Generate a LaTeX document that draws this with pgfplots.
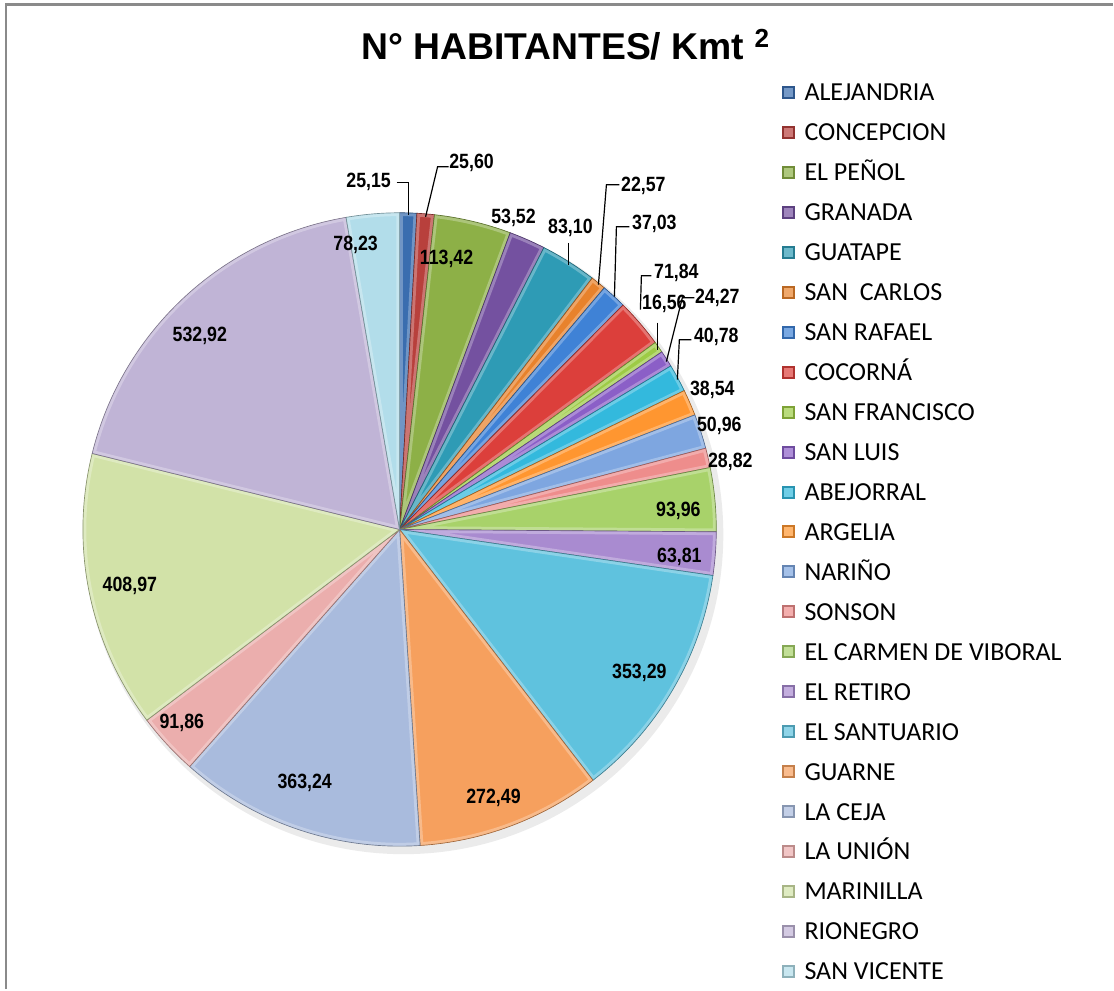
\documentclass[border=0pt]{standalone}
\usepackage{fontspec}
\setmainfont{Liberation Sans}
\newfontfamily\legfont{Carlito}
\newfontfamily\labfont[FakeStretch=0.86]{Liberation Sans}
\usepackage{pgfplots}
\usepackage{pgfplotstable}
\pgfplotsset{compat=1.18}

\definecolor{pc0}{HTML}{3A6DAF}
\definecolor{pc1}{HTML}{B8403C}
\definecolor{pc2}{HTML}{8DB047}
\definecolor{pc3}{HTML}{7451A0}
\definecolor{pc4}{HTML}{2E9BB5}
\definecolor{pc5}{HTML}{E8822C}
\definecolor{pc6}{HTML}{3F82D6}
\definecolor{pc7}{HTML}{DC3F3B}
\definecolor{pc8}{HTML}{9DCB45}
\definecolor{pc9}{HTML}{8B5FC7}
\definecolor{pc10}{HTML}{33B9DD}
\definecolor{pc11}{HTML}{FF9630}
\definecolor{pc12}{HTML}{7EA6E0}
\definecolor{pc13}{HTML}{EE8D8C}
\definecolor{pc14}{HTML}{A8D26A}
\definecolor{pc15}{HTML}{A98BD0}
\definecolor{pc16}{HTML}{5FC2DE}
\definecolor{pc17}{HTML}{F6A05E}
\definecolor{pc18}{HTML}{A9BBDD}
\definecolor{pc19}{HTML}{EBAEAD}
\definecolor{pc20}{HTML}{D2E2A8}
\definecolor{pc21}{HTML}{C0B4D6}
\definecolor{pc22}{HTML}{B2DDEA}
\definecolor{frame}{HTML}{8A8A8A}

% value; label centre (pixel coordinates, y downwards)
\pgfplotstableread[col sep=semicolon]{
name;value;lx;ly
ALEJANDRIA;25.15;369;180
CONCEPCION;25.60;472;161
EL PEÑOL;113.42;447;257
GRANADA;53.52;514;216
GUATAPE;83.10;571;226
SAN\ \ CARLOS;22.57;644;184
SAN RAFAEL;37.03;655;222
COCORNÁ;71.84;677;271
SAN FRANCISCO;16.56;665;302
SAN LUIS;24.27;718;296
ABEJORRAL;40.78;717;335
ARGELIA;38.54;713;388
NARIÑO;50.96;720;424
SONSON;28.82;731;460
EL CARMEN DE VIBORAL;93.96;679;510
EL RETIRO;63.81;680;556
EL SANTUARIO;353.29;640;672
GUARNE;272.49;494;797
LA CEJA;363.24;305;782
LA UNIÓN;91.86;182;722
MARINILLA;408.97;130;585
RIONEGRO;532.92;200;334
SAN VICENTE;78.23;356;243
}\piedata

% cumulative angles (clockwise from 12 o'clock)
\pgfplotstablegetrowsof{\piedata}
\pgfmathtruncatemacro\pieN{\pgfplotsretval-1}
\gdef\pietot{0}
\foreach \i in {0,...,\pieN}{%
  \pgfplotstablegetelem{\i}{value}\of\piedata
  \pgfmathsetmacro\t{\pietot+\pgfplotsretval}%
  \xdef\pietot{\t}}
\gdef\piecum{0}
\foreach \i in {0,...,\pieN}{%
  \pgfplotstablegetelem{\i}{value}\of\piedata
  \pgfmathsetmacro\a{90-(\piecum/\pietot)*360}%
  \pgfmathsetmacro\c{\piecum+\pgfplotsretval}%
  \pgfmathsetmacro\b{90-(\c/\pietot)*360}%
  \expandafter\xdef\csname pieA\i\endcsname{\a}%
  \expandafter\xdef\csname pieB\i\endcsname{\b}%
  \xdef\piecum{\c}}

\begin{document}
\begin{tikzpicture}
\begin{axis}[x=0.75pt, y=0.75pt, xmin=0, xmax=1114, ymin=0, ymax=990,
  hide axis, clip=false, scale only axis]
\path (axis cs:0,0) rectangle (axis cs:1114,990);
% chart frame
\draw[frame, line width=1.6pt] (axis cs:6,0) -- (axis cs:6,985.5) -- (axis cs:1114,985.5);
% title
\node[anchor=base, font=\bfseries\fontsize{28}{32}\selectfont, inner sep=0pt]
  at (axis cs:566,{990-60}) {N° HABITANTES/ Kmt \textsuperscript{2}};
% soft shadow of the pie
\pgfplotsextra{\fill[black, opacity=0.08] (axis cs:404,455) circle[radius=240pt];}
% slices
\pgfplotsinvokeforeach{0,...,22}{%
 \pgfplotsextra{%
  \fill[pc#1] (axis cs:400,460) -- ++(\csname pieA#1\endcsname:237.75pt)
    arc[start angle=\csname pieA#1\endcsname, end angle=\csname pieB#1\endcsname, radius=237.75pt] -- cycle;
  \begin{scope}
  \clip (axis cs:400,460) -- ++(\csname pieA#1\endcsname:237.75pt)
    arc[start angle=\csname pieA#1\endcsname, end angle=\csname pieB#1\endcsname, radius=237.75pt] -- cycle;
  \draw[white, opacity=0.28, line width=5pt] (axis cs:400,460) -- ++(\csname pieA#1\endcsname:237.75pt)
    arc[start angle=\csname pieA#1\endcsname, end angle=\csname pieB#1\endcsname, radius=237.75pt] -- cycle;
  \end{scope}
  \draw[pc#1!65!black, line width=0.5pt] (axis cs:400,460) -- ++(\csname pieA#1\endcsname:237.75pt)
    arc[start angle=\csname pieA#1\endcsname, end angle=\csname pieB#1\endcsname, radius=237.75pt] -- cycle;
 }}
% leader lines
\draw[black, line width=0.9pt] (axis cs:397,{990-183}) -- (axis cs:409,{990-183}) -- (axis cs:409,{990-215});
\draw[black, line width=0.9pt] (axis cs:449,{990-167}) -- (axis cs:438,{990-167}) -- (axis cs:426,{990-217});
\draw[black, line width=0.9pt] (axis cs:569,{990-243}) -- (axis cs:569,{990-265});
\draw[black, line width=0.9pt] (axis cs:620,{990-185}) -- (axis cs:607,{990-185}) -- (axis cs:599,{990-285});
\draw[black, line width=0.9pt] (axis cs:630,{990-227}) -- (axis cs:617,{990-227}) -- (axis cs:615,{990-297});
\draw[black, line width=0.9pt] (axis cs:652,{990-276}) -- (axis cs:642,{990-276}) -- (axis cs:641,{990-310});
\draw[black, line width=0.9pt] (axis cs:658,{990-323}) -- (axis cs:658,{990-350});
\draw[black, line width=0.9pt] (axis cs:695,{990-298}) -- (axis cs:683,{990-298}) -- (axis cs:667,{990-362});
\draw[black, line width=0.9pt] (axis cs:692,{990-340}) -- (axis cs:680,{990-340}) -- (axis cs:678,{990-380});
% labels and legend
\pgfplotsinvokeforeach{0,...,22}{%
 \pgfplotsextra{%
  \pgfplotstablegetelem{#1}{value}\of\piedata \let\v\pgfplotsretval
  \pgfplotstablegetelem{#1}{lx}\of\piedata \let\lx\pgfplotsretval
  \pgfplotstablegetelem{#1}{ly}\of\piedata \let\ly\pgfplotsretval
  \pgfplotstablegetelem{#1}{name}\of\piedata \let\nm\pgfplotsretval
  \node[anchor=base, inner sep=0pt, font=\labfont\bfseries\fontsize{15.5}{18}\selectfont]
    at (axis cs:\lx,{990-\ly-7.5}) {\pgfmathprintnumber[fixed,fixed zerofill,precision=2,use comma,assume math mode=true]{\v}};
  \fill[pc#1!80!black] (axis cs:783,{990-92.5-40*#1-6.5}) rectangle ++(9.75pt,9.75pt);
  \fill[pc#1!70!white] (axis cs:785,{990-92.5-40*#1-4.5}) rectangle ++(6.75pt,6.75pt);
  \node[anchor=base west, inner sep=0pt, font=\legfont\fontsize{19.5}{22}\selectfont]
    at (axis cs:805,{990-92.5-40*#1-8.3}) {\nm};
 }}
\end{axis}
\end{tikzpicture}
\end{document}
